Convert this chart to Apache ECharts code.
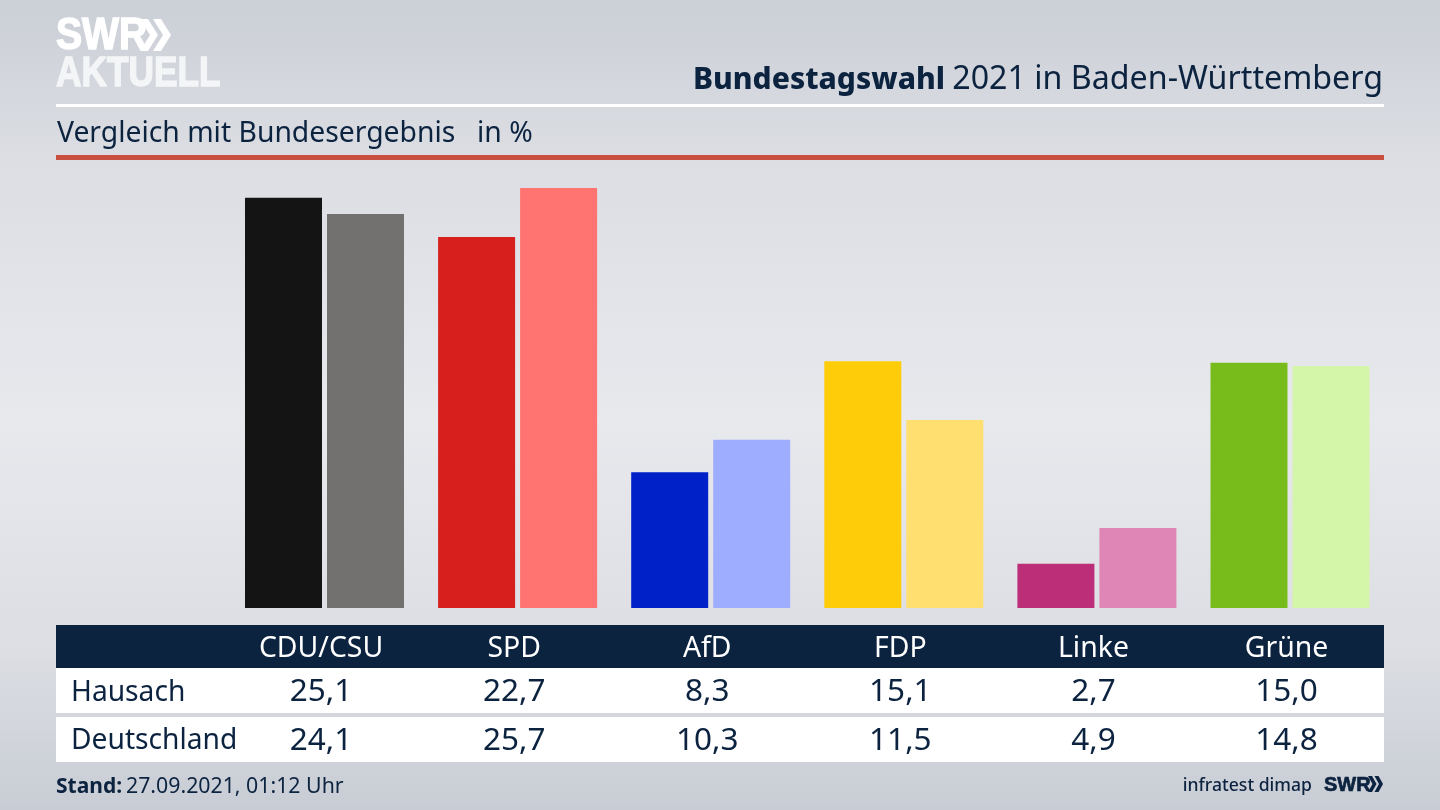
<!DOCTYPE html>
<html>
<head>
<meta charset="utf-8">
<title>Bundestagswahl 2021 in Baden-Württemberg</title>
<style>
  html, body { margin: 0; padding: 0; }
  #main { width: 1440px; height: 810px; }
</style>
<script src="https://cdn.jsdelivr.net/npm/echarts@6/dist/echarts.min.js"></script>
</head>
<body>
<div id="main"></div>
<script>
// 数据
var parties = ['CDU/CSU', 'SPD', 'AfD', 'FDP', 'Linke', 'Grüne'];
var hausach = [25.1, 22.7, 8.3, 15.1, 2.7, 15.0];
var deutschland = [24.1, 25.7, 10.3, 11.5, 4.9, 14.8];
var hausachColors = ['#141414', '#d71f1d', '#0020c8', '#ffcc0a', '#bc2e78', '#78bc1c'];
var deutschlandColors = ['#72716f', '#ff7470', '#9eadff', '#ffdf70', '#e086b6', '#d4f6a8'];

var navy = '#0c2340';
var font = '"Noto Sans", sans-serif';

function fmt(v) {
  return v.toFixed(1).replace('.', ',');
}

function bars(values, colors) {
  return values.map(function (v, i) {
    return { value: v, itemStyle: { color: colors[i] } };
  });
}

// 表格的一行：用一条隐藏轴线的类目轴来画文字
function rowAxis(labels, offset, color, size) {
  return {
    type: 'category',
    gridIndex: 1,
    position: 'bottom',
    offset: offset,
    z: 10,
    data: labels,
    axisLine: { show: false },
    axisTick: { show: false },
    axisLabel: {
      interval: 0,
      margin: 0,
      verticalAlign: 'middle',
      color: color,
      fontFamily: font,
      fontSize: size
    }
  };
}

function label(x, y, text, size, weight, align) {
  return {
    type: 'text', x: x, y: y, z: 5,
    style: {
      text: text, fill: navy, font: (weight || 'normal') + ' ' + size + 'px ' + font,
      textAlign: align || 'left', textVerticalAlign: 'middle'
    }
  };
}

function band(x, y, w, h, color) {
  return { type: 'rect', z: 1, shape: { x: x, y: y, width: w, height: h }, style: { fill: color } };
}

// 标志文字，横向压窄
function logoText(x, y, text, size, squeeze, color) {
  return {
    type: 'text', x: x, y: y, z: 5, scaleX: squeeze,
    style: {
      text: text, fill: color,
      stroke: color, lineWidth: size / 30,
      font: 'bold ' + size + 'px "Liberation Sans", sans-serif',
      textVerticalAlign: 'middle'
    }
  };
}

// 标志里的双箭头
function chevrons(x, y, h, w, t, step, color) {
  var out = [];
  [0, step].forEach(function (dx) {
    out.push({
      type: 'polygon', z: 5,
      shape: { points: [
        [x + dx, y], [x + dx + t, y], [x + dx + w, y + h / 2],
        [x + dx + t, y + h], [x + dx, y + h], [x + dx + w - t, y + h / 2]
      ] },
      style: { fill: color }
    });
  });
  return out;
}

var chart = echarts.init(document.getElementById('main'));
var option = {
  animation: false,
  backgroundColor: new echarts.graphic.LinearGradient(0, 0, 0, 1, [
    { offset: 0, color: '#cbcfd6' },
    { offset: 0.2, color: '#dcdee3' },
    { offset: 0.52, color: '#e8e9ed' },
    { offset: 0.8, color: '#dcdee3' },
    { offset: 1, color: '#c8ccd4' }
  ]),
  grid: [
    { left: 227.95, width: 1158.6, top: 183, height: 425 },
    { left: 224.5, width: 1158.6, top: 600, height: 49 }
  ],
  xAxis: [
    {
      type: 'category', gridIndex: 0, data: parties,
      axisLine: { show: false }, axisTick: { show: false }, axisLabel: { show: false }
    },
    rowAxis(parties, 0, '#ffffff', 28.4),
    rowAxis(hausach.map(fmt), 43, navy, 31.5),
    rowAxis(deutschland.map(fmt), 92, navy, 31.5)
  ],
  yAxis: [
    { type: 'value', gridIndex: 0, min: 0, max: 26, show: false },
    { type: 'value', gridIndex: 1, show: false }
  ],
  series: [
    {
      name: 'Hausach', type: 'bar', xAxisIndex: 0, yAxisIndex: 0,
      barWidth: 77, barGap: '6.5%', data: bars(hausach, hausachColors)
    },
    {
      name: 'Deutschland', type: 'bar', xAxisIndex: 0, yAxisIndex: 0,
      barWidth: 77, barGap: '6.5%', data: bars(deutschland, deutschlandColors)
    }
  ],
  graphic: [
    band(56, 104, 1328, 3, '#ffffff'),
    band(56, 155, 1328, 5, '#c9503f'),
    band(56, 625, 1328, 43, navy),
    band(56, 668, 1328, 45, '#ffffff'),
    band(56, 717, 1328, 45, '#ffffff'),
    logoText(56, 37, 'SWR', 44, 0.89, '#ffffff'),
    logoText(56, 74, 'AKTUELL', 42, 0.84, '#f4f5f7'),
    logoText(1324, 785, 'SWR', 21, 0.95, navy),
    label(1383, 80, '2021 in Baden-Württemberg', 32.2, 'normal', 'right'),
    label(945, 80, 'Bundestagswahl', 30, '800', 'right'),
    label(57, 134, 'Vergleich mit Bundesergebnis', 28.3),
    label(477, 134, 'in %', 28.3),
    label(71, 693, 'Hausach', 28.2),
    label(71, 741, 'Deutschland', 28.2),
    label(56, 787, 'Stand:', 21, 'bold'),
    label(126, 787, '27.09.2021, 01:12 Uhr', 21.3),
    label(1312, 786, 'infratest dimap', 17.6, '500', 'right')
  ].concat(chevrons(140, 19, 32, 18, 8, 13, '#ffffff'), chevrons(1368, 776, 16, 8.5, 4, 6.5, navy))
};
chart.setOption(option);
</script>
</body>
</html>
